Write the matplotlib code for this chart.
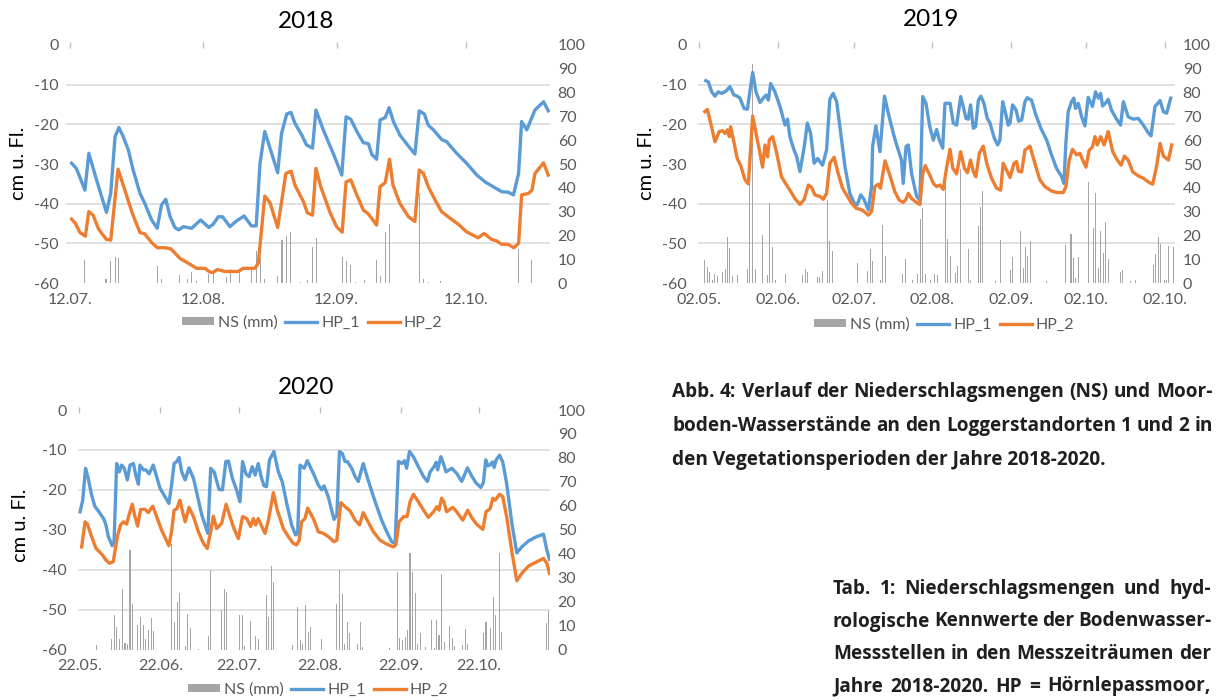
import numpy as np
import matplotlib
matplotlib.use("Agg")
import matplotlib.pyplot as plt
from matplotlib.patches import Patch
from matplotlib.lines import Line2D

# --- 2018 (Tage ab 12.07.) ---
d18_hp1 = [0.4, 1.5, 3.5, 4.4, 6.2, 8.5, 9.5, 10.5, 11.4, 12.4, 13.6, 14.7, 16.3, 17.4, 19.0, 20.3, 21.3,
           22.3, 23.3, 24.4, 25.3, 26.4, 28.3, 30.4, 32.3, 33.3, 34.5, 35.5, 37.2, 38.8, 40.5, 42.2, 43.3,
           44.2, 45.3, 46.9, 48.3, 49.2, 50.4, 51.4, 52.3, 53.9, 55.0, 56.4, 57.2, 58.9, 61.2, 63.2, 64.2,
           65.3, 66.7, 68.2, 69.4, 70.2, 71.3, 72.1, 73.3, 74.2, 75.2, 76.7, 78.7, 80.2, 81.2, 82.4, 83.3,
           84.5, 86.4, 87.6, 89.9, 92.2, 94.6, 96.5, 98.8, 100.4, 101.9, 103.1, 104.3, 105.0, 106.2, 108.1,
           110.1, 111.2]
hp1_18 = [-29.8, -31.1, -36.6, -27.3, -34.0, -42.2, -37.4, -23.1, -20.8, -23.1, -26.5, -31.5, -37.4, -39.9,
          -44.1, -46.2, -40.3, -38.9, -43.3, -46.0, -46.6, -45.8, -46.2, -44.1, -46.0, -45.2, -43.3, -43.3,
          -45.8, -44.3, -43.1, -45.6, -45.6, -29.8, -21.8, -27.3, -32.2, -22.3, -17.4, -17.0, -19.7, -22.7,
          -25.2, -26.0, -16.4, -21.4, -27.3, -32.8, -18.1, -18.7, -21.8, -24.6, -24.9, -27.6, -28.8, -18.9,
          -18.3, -15.8, -19.3, -22.7, -25.5, -27.5, -16.6, -17.4, -20.2, -21.4, -23.8, -24.4, -27.3, -29.8,
          -32.8, -34.5, -36.0, -37.0, -37.1, -37.8, -32.4, -19.3, -21.4, -16.4, -14.3, -16.6]
d18_hp2 = [0.4, 1.3, 2.3, 3.6, 4.4, 5.4, 6.6, 7.4, 8.5, 9.5, 11.2, 12.4, 14.5, 16.3, 17.4, 19.0, 20.3, 22.1,
           23.5, 25.6, 27.5, 29.5, 31.4, 32.6, 33.3, 34.3, 36.0, 39.1, 40.3, 43.0, 43.8, 45.3, 46.5, 48.3,
           50.2, 51.4, 52.3, 54.3, 55.2, 56.4, 57.2, 58.3, 60.5, 62.0, 63.3, 64.2, 65.3, 66.7, 68.2, 69.4,
           71.3, 72.1, 73.3, 74.3, 75.1, 76.7, 78.7, 80.2, 81.2, 82.2, 83.3, 84.9, 86.4, 88.4, 90.3, 92.2,
           94.9, 96.3, 98.0, 99.2, 100.3, 101.9, 103.2, 104.3, 105.0, 106.6, 107.4, 108.1, 110.1, 111.2]
hp2_18 = [-43.9, -45.0, -47.2, -48.2, -42.0, -42.9, -46.2, -47.5, -49.0, -49.2, -31.3, -35.3, -42.4, -47.3,
          -47.6, -49.8, -51.1, -51.1, -51.4, -53.8, -55.0, -56.3, -56.3, -57.3, -57.3, -56.6, -57.1, -57.1,
          -56.3, -56.3, -55.0, -38.1, -39.7, -46.0, -32.4, -31.8, -35.3, -39.5, -42.3, -42.9, -31.1, -35.7,
          -42.3, -45.8, -47.2, -34.5, -34.0, -37.8, -41.6, -42.6, -45.4, -35.7, -34.7, -28.8, -35.3, -39.9,
          -43.3, -44.5, -31.5, -32.4, -35.7, -39.1, -42.0, -43.7, -45.2, -47.1, -48.6, -47.5, -49.0, -49.4,
          -50.2, -50.3, -51.1, -50.0, -37.8, -37.4, -36.6, -32.4, -29.7, -32.8]
d18_ns = [3.5, 8.4, 9.5, 10.5, 11.4, 20.4, 21.4, 25.4, 27.4, 28.3, 29.5, 32.3, 33.4, 36.4, 37.4, 39.4, 42.2,
          43.3, 44.3, 45.3, 48.3, 49.3, 50.4, 51.3, 53.5, 55.3, 56.4, 57.4, 63.3, 64.3, 65.3, 66.3, 68.4,
          71.3, 72.3, 73.3, 74.3, 81.3, 82.3, 83.3, 86.2, 104.2, 107.2]
ns_18 = [9.8, 1.8, 9.4, 10.9, 10.5, 7.0, 1.8, 3.2, 1.8, 4.6, 0.7, 3.8, 4.6, 2.4, 6.0, 5.6, 5.6, 13.3, 10.5,
         1.8, 3.1, 18.2, 19.9, 21.4, 0.3, 1.1, 15.1, 18.9, 10.9, 9.1, 7.4, 0.4, 1.1, 9.8, 2.8, 21.4, 24.9,
         38.0, 1.8, 0.4, 0.7, 14.3, 9.8]

# --- 2019 (Tage ab 02.05.) ---
d19_hp1 = [2.6, 3.6, 4.9, 6.2, 7.5, 8.8, 10.6, 12.1, 13.7, 15.0, 16.1, 17.7, 19.0, 20.0, 21.1, 22.4, 24.0,
           25.3, 26.4, 27.3, 28.2, 29.9, 31.9, 33.9, 34.9, 35.8, 37.2, 38.5, 39.8, 41.5, 42.7, 44.0, 45.4,
           46.8, 48.7, 50.3, 51.6, 52.9, 54.3, 55.9, 57.6, 59.5, 61.3, 62.4, 63.8, 65.1, 66.8, 68.1, 68.5,
           69.8, 71.4, 73.2, 74.7, 76.7, 78.0, 79.9, 80.6, 81.7, 82.6, 83.9, 85.9, 87.2, 88.3, 89.6, 91.1,
           92.5, 93.8, 94.9, 96.2, 97.1, 99.1, 100.4, 101.7, 103.3, 104.3, 105.4, 106.3, 107.2, 108.3, 109.2,
           110.3, 111.3, 112.5, 113.8, 114.9, 116.6, 117.9, 118.8, 119.9, 120.9, 122.1, 122.8, 123.8, 125.2,
           126.2, 127.4, 128.7, 129.6, 131.3, 133.0, 135.0, 137.3, 139.2, 141.2, 143.2, 144.1, 144.9, 145.8,
           147.1, 148.0, 148.7, 149.8, 151.1, 152.4, 153.7, 155.4, 156.6, 157.7, 158.6, 159.4, 161.0, 161.6,
           162.9, 164.7, 166.5, 167.6, 169.5, 171.5, 173.5, 175.5, 177.4, 178.5, 180.1, 182.1, 183.4, 184.7,
           186.3]
hp1_19 = [-9.0, -9.3, -11.8, -12.9, -11.8, -12.2, -11.6, -10.5, -12.6, -12.9, -13.4, -16.0, -16.2, -11.8,
          -6.9, -11.8, -14.5, -13.4, -12.6, -13.9, -9.7, -11.8, -15.5, -20.2, -18.7, -23.1, -26.0, -28.2,
          -31.9, -25.6, -19.7, -22.3, -29.8, -28.6, -30.3, -26.5, -13.7, -12.2, -14.3, -22.3, -30.7, -37.4,
          -39.9, -40.3, -37.8, -38.9, -41.6, -35.7, -25.6, -20.4, -26.9, -12.9, -17.2, -22.3, -25.2, -29.0,
          -34.9, -25.6, -25.2, -32.4, -38.2, -39.1, -13.0, -14.7, -20.6, -24.0, -21.3, -24.0, -26.0, -14.7,
          -14.7, -19.7, -20.2, -13.0, -15.5, -18.5, -18.7, -15.1, -21.0, -20.6, -13.9, -12.9, -14.7, -18.5,
          -19.7, -23.5, -25.2, -24.0, -14.3, -16.8, -20.2, -19.7, -15.1, -16.4, -19.2, -18.9, -14.3, -13.3,
          -13.9, -17.6, -21.0, -24.0, -27.7, -31.1, -33.2, -34.9, -24.4, -16.8, -14.3, -13.4, -16.0, -14.7,
          -18.1, -20.4, -13.2, -15.5, -11.8, -13.4, -12.2, -15.4, -14.3, -13.7, -16.4, -18.5, -20.2, -14.3,
          -18.1, -18.7, -18.5, -20.2, -22.1, -22.9, -15.5, -14.0, -16.8, -17.2, -13.4]
d19_hp2 = [2.2, 3.2, 4.5, 6.2, 7.9, 9.2, 10.2, 11.1, 11.9, 12.4, 13.5, 15.0, 16.3, 18.1, 19.4, 21.1, 22.7,
           24.0, 25.0, 26.0, 27.0, 27.7, 29.0, 30.6, 32.5, 34.5, 35.8, 37.8, 39.8, 41.5, 43.1, 44.4, 45.7,
           47.7, 49.0, 50.3, 51.6, 53.3, 54.9, 56.6, 58.2, 60.2, 62.1, 63.5, 64.8, 66.8, 68.1, 69.4, 70.7,
           71.6, 73.4, 75.3, 77.3, 79.0, 80.6, 81.7, 82.6, 83.9, 85.9, 87.2, 88.3, 89.3, 91.1, 92.5, 93.8,
           95.1, 96.4, 97.8, 99.1, 100.2, 101.7, 103.3, 104.8, 106.0, 107.2, 108.3, 109.3, 110.7, 112.2,
           113.6, 115.5, 117.5, 119.1, 120.1, 121.4, 122.8, 124.4, 125.4, 126.1, 127.4, 128.7, 130.7, 132.6,
           134.6, 136.6, 139.2, 141.2, 143.8, 144.9, 146.2, 147.5, 149.1, 150.4, 151.8, 152.8, 154.1, 155.3,
           156.4, 157.3, 158.6, 160.0, 161.6, 163.4, 165.0, 166.7, 168.0, 169.5, 171.3, 173.5, 175.5, 177.4,
           179.2, 180.8, 182.1, 183.4, 185.4, 186.7]
hp2_19 = [-16.8, -16.2, -19.7, -24.4, -21.8, -21.6, -22.3, -21.4, -23.1, -20.6, -23.9, -28.6, -30.3, -34.0,
          -35.0, -17.9, -23.1, -27.3, -30.8, -25.2, -28.2, -23.9, -23.1, -27.3, -33.2, -35.3, -36.6, -38.7,
          -40.2, -38.9, -35.3, -35.9, -37.8, -38.2, -38.9, -37.4, -29.8, -28.3, -32.4, -36.1, -37.8, -39.9,
          -41.2, -41.4, -41.8, -42.9, -42.0, -35.7, -35.1, -36.1, -29.2, -32.8, -37.0, -39.1, -39.7, -38.9,
          -37.4, -38.7, -39.7, -40.2, -32.4, -30.4, -32.8, -34.9, -35.7, -35.3, -36.4, -30.7, -26.3, -31.1,
          -32.5, -26.9, -31.1, -32.2, -29.0, -31.9, -33.2, -27.3, -25.5, -29.8, -33.6, -36.1, -36.6, -29.8,
          -31.5, -33.4, -29.8, -29.4, -31.8, -32.0, -26.5, -25.5, -29.8, -34.0, -35.7, -36.8, -37.2, -37.2,
          -35.7, -29.0, -26.3, -27.7, -27.3, -29.4, -30.8, -26.5, -25.8, -23.1, -25.2, -23.1, -25.2, -21.8,
          -26.9, -28.8, -30.3, -28.0, -29.0, -32.0, -33.0, -33.6, -34.5, -35.1, -30.3, -24.8, -28.0, -29.0,
          -25.2]
d19_ns = [2.1, 3.2, 4.2, 5.1, 6.2, 7.1, 9.1, 10.2, 11.1, 12.1, 13.2, 15.0, 19.0, 20.0, 21.1, 22.2, 25.0,
          26.9, 27.9, 28.9, 30.2, 33.9, 40.8, 41.8, 42.7, 46.8, 47.7, 48.6, 50.7, 51.6, 52.7, 62.4, 66.5,
          67.6, 68.5, 71.7, 72.4, 73.5, 80.2, 81.4, 84.2, 86.3, 87.3, 88.3, 89.3, 91.4, 93.1, 94.1, 97.3,
          98.0, 99.3, 101.2, 102.0, 103.4, 106.3, 107.1, 110.3, 111.2, 112.0, 117.1, 119.1, 123.1, 123.9,
          127.0, 128.0, 129.0, 129.7, 130.9, 137.3, 144.8, 146.9, 147.8, 148.8, 149.8, 153.7, 155.7, 156.6,
          157.7, 158.6, 159.6, 160.7, 161.6, 166.5, 167.3, 170.6, 172.4, 179.4, 180.4, 181.4, 182.3, 184.0,
          184.7, 185.6, 187.3]
ns_19 = [9.5, 6.6, 4.6, 1.1, 3.8, 2.8, 4.6, 6.0, 19.2, 14.7, 2.8, 3.2, 6.0, 44.0, 92.0, 5.9, 20.3, 3.5,
         33.6, 15.0, 1.4, 3.8, 3.5, 5.9, 4.6, 2.5, 2.5, 5.2, 35.0, 17.5, 13.3, 8.4, 4.9, 14.3, 9.4, 1.4, 24.5,
         11.5, 3.9, 10.2, 1.4, 3.8, 27.0, 31.5, 3.9, 1.4, 3.9, 3.5, 46.0, 18.5, 11.2, 4.2, 7.0, 48.0, 14.3,
         1.4, 24.0, 32.0, 38.7, 0.7, 17.9, 5.6, 10.9, 21.7, 6.3, 15.1, 11.2, 17.8, 0.7, 16.1, 20.7, 10.5,
         2.1, 10.9, 42.4, 23.1, 38.0, 6.3, 22.0, 12.6, 25.6, 10.1, 4.5, 5.6, 0.7, 1.4, 7.4, 12.2, 19.3, 16.5,
         1.4, 1.4, 15.7, 15.1]

# --- 2020 (Tage ab 22.05.) ---
d20_hp1 = [0.3, 1.3, 2.4, 3.4, 4.7, 6.0, 7.3, 9.3, 10.2, 11.1, 12.6, 13.3, 14.3, 15.3, 16.2, 17.2, 18.4,
           19.4, 20.7, 21.6, 22.6, 23.2, 24.5, 25.5, 26.7, 28.3, 29.6, 30.9, 32.8, 34.3, 35.4, 36.3, 37.3,
           38.2, 39.2, 40.5, 42.0, 43.7, 45.6, 46.9, 49.2, 50.3, 51.6, 53.5, 54.8, 56.1, 57.1, 58.6, 60.2,
           61.5, 62.5, 63.8, 65.0, 66.2, 67.3, 68.5, 69.6, 70.7, 71.7, 72.8, 74.5, 76.2, 77.7, 79.4, 81.3,
           82.8, 83.6, 84.5, 86.1, 87.3, 89.9, 91.5, 92.8, 93.7, 95.3, 96.6, 97.5, 98.6, 99.6, 100.7, 101.7,
           102.6, 104.3, 105.6, 106.8, 108.7, 110.0, 112.0, 113.9, 115.8, 117.7, 119.6, 120.9, 122.2, 123.5,
           124.5, 125.3, 126.4, 127.9, 129.8, 131.8, 133.3, 134.3, 135.8, 136.6, 137.2, 138.4, 139.4, 140.4,
           142.6, 144.5, 146.4, 148.6, 150.2, 151.8, 153.7, 154.7, 155.6, 156.4, 157.2, 158.2, 158.8, 159.6,
           160.9, 162.1, 163.6, 165.6, 167.5, 169.4, 172.0, 174.5, 177.7, 179.0, 180.0]
hp1_20 = [-25.5, -22.6, -14.6, -17.1, -21.3, -24.2, -25.3, -27.2, -28.8, -31.7, -34.0, -33.0, -13.4, -15.5,
          -13.8, -14.6, -17.5, -13.8, -13.4, -16.3, -18.6, -13.8, -15.0, -15.0, -16.0, -13.8, -16.7, -19.6,
          -21.7, -23.4, -18.4, -13.4, -12.9, -11.9, -15.5, -17.5, -14.5, -17.1, -22.6, -26.3, -30.9, -14.6,
          -15.5, -19.9, -20.0, -12.9, -12.8, -17.1, -20.0, -23.0, -12.9, -16.0, -16.7, -14.2, -16.3, -13.4,
          -16.7, -19.0, -19.2, -12.5, -10.4, -15.5, -18.0, -23.4, -28.8, -31.3, -30.9, -13.8, -14.6, -12.7,
          -16.3, -18.8, -20.0, -19.0, -21.7, -25.1, -27.4, -26.3, -10.4, -10.9, -12.9, -12.9, -14.6, -16.7,
          -17.9, -13.4, -16.3, -20.5, -24.2, -27.7, -30.5, -33.0, -33.4, -12.9, -13.4, -12.7, -14.6, -10.4,
          -11.7, -14.2, -16.7, -17.9, -15.5, -14.2, -13.1, -15.0, -11.7, -13.4, -15.5, -14.6, -15.9, -17.9,
          -14.5, -16.5, -18.2, -19.4, -18.2, -12.5, -14.0, -13.8, -13.0, -14.4, -12.5, -11.3, -13.0, -18.4,
          -28.4, -35.8, -34.3, -32.8, -31.9, -31.1, -35.1, -37.4]
d20_hp2 = [0.9, 2.2, 3.1, 4.7, 6.4, 8.6, 10.2, 11.5, 13.0, 14.6, 15.8, 16.9, 18.1, 19.2, 20.3, 21.3, 22.3,
           23.5, 25.2, 26.4, 28.1, 29.6, 31.5, 34.3, 35.4, 36.3, 37.3, 38.5, 39.4, 40.5, 42.0, 43.7, 45.6,
           47.5, 49.0, 50.3, 51.3, 52.6, 54.5, 56.2, 57.7, 59.2, 60.9, 62.5, 64.1, 65.6, 66.6, 67.5, 68.5,
           69.8, 71.1, 72.4, 74.3, 75.8, 78.1, 80.0, 81.9, 83.2, 84.2, 85.1, 86.4, 87.4, 89.6, 91.5, 93.4,
           95.3, 97.5, 98.6, 100.1, 101.7, 103.7, 105.6, 107.3, 108.7, 110.3, 112.6, 115.1, 117.7, 120.2,
           121.2, 122.4, 124.2, 125.5, 126.6, 127.9, 129.8, 131.8, 133.6, 135.6, 136.9, 137.7, 138.7, 139.6,
           140.6, 143.0, 144.5, 146.8, 148.7, 150.2, 152.2, 154.5, 155.7, 157.3, 158.3, 159.2, 160.9, 162.1,
           163.6, 165.6, 167.5, 169.4, 172.0, 175.2, 177.7, 179.0, 180.0]
hp2_20 = [-34.3, -28.0, -28.6, -31.7, -34.7, -36.1, -37.6, -38.4, -38.0, -31.6, -28.8, -28.0, -28.6, -25.9,
          -23.6, -26.7, -29.1, -24.9, -24.9, -25.7, -24.1, -26.7, -30.1, -34.0, -30.1, -25.1, -24.8, -22.6,
          -25.1, -28.0, -24.4, -26.7, -30.5, -33.4, -34.7, -30.5, -26.6, -29.7, -28.4, -23.6, -26.7, -29.7,
          -32.2, -26.7, -27.2, -29.2, -27.2, -28.8, -27.2, -29.1, -30.9, -27.6, -20.7, -25.1, -29.7, -31.7,
          -33.4, -33.8, -32.6, -28.0, -27.2, -24.6, -27.2, -30.5, -30.9, -31.7, -33.0, -32.6, -23.2, -24.2,
          -25.3, -27.6, -28.8, -25.7, -27.7, -30.5, -32.6, -33.6, -34.3, -33.8, -28.0, -26.7, -26.7, -23.0,
          -21.1, -23.0, -25.1, -26.9, -25.5, -24.2, -25.1, -22.1, -23.0, -25.5, -24.4, -25.5, -27.6, -25.1,
          -26.9, -28.7, -29.9, -25.5, -24.7, -22.1, -22.6, -21.1, -21.7, -26.7, -35.5, -42.8, -40.9, -39.1,
          -38.0, -37.2, -38.4, -40.9]
d20_ns = [6.4, 12.4, 13.4, 14.3, 15.3, 16.5, 17.5, 18.4, 19.4, 20.3, 22.3, 23.4, 24.5, 25.5, 26.4, 27.5,
          28.3, 35.4, 36.4, 37.5, 38.5, 40.5, 41.5, 42.5, 45.6, 49.4, 50.4, 54.5, 55.5, 56.4, 61.5, 62.5,
          63.4, 65.5, 67.5, 68.5, 71.5, 72.6, 73.5, 74.5, 81.5, 83.6, 84.5, 85.5, 86.7, 87.7, 88.6, 92.8,
          98.6, 99.6, 100.7, 101.6, 102.6, 103.6, 106.6, 107.6, 108.5, 118.8, 121.8, 122.6, 123.7, 124.8,
          125.8, 126.6, 127.5, 128.7, 129.4, 130.5, 132.4, 134.8, 135.8, 136.9, 137.7, 138.7, 139.7, 141.7,
          142.7, 143.6, 146.8, 147.7, 148.6, 154.7, 155.7, 157.6, 158.5, 159.5, 160.7, 161.6, 179.0, 179.7]
ns_20 = [1.8, 4.2, 14.6, 9.5, 4.2, 25.2, 2.8, 2.2, 41.5, 18.9, 10.2, 13.6, 10.2, 4.2, 8.1, 13.0, 7.8, 44.0,
         11.6, 19.9, 23.7, 1.4, 15.0, 9.1, 0.4, 5.6, 33.1, 16.4, 25.2, 24.1, 14.6, 14.6, 1.4, 12.0, 5.6, 4.2,
         22.7, 13.4, 34.8, 28.0, 1.8, 17.8, 3.9, 2.5, 18.5, 7.1, 9.2, 4.2, 19.2, 33.1, 23.1, 2.5, 11.6, 6.7,
         2.5, 11.3, 1.1, 0.7, 32.5, 4.6, 3.9, 5.3, 8.1, 40.4, 32.5, 23.7, 2.5, 6.7, 1.1, 12.5, 0.8, 12.5, 6.0,
         31.5, 3.2, 9.7, 5.0, 1.4, 1.8, 8.4, 2.2, 6.7, 11.6, 8.8, 22.0, 14.3, 40.4, 7.4, 10.9, 16.2]

ticks18 = [0, 31, 62, 92]
labels18 = ["12.07.", "12.08.", "12.09.", "12.10."]
ticks19 = [0, 31, 61, 92, 123, 153, 184]
labels19 = ["02.05.", "02.06.", "02.07.", "02.08.", "02.09.", "02.10.", "02.10."]
ticks20 = [0, 31, 61, 92, 123, 153]
labels20 = ["22.05.", "22.06.", "22.07.", "22.08.", "22.09.", "22.10."]

BLUE = "#5b9bd5"
ORANGE = "#ed7d31"
GRAY = "#a5a5a5"
GRID = "#d9d9d9"
LBL = "#595959"
W, H = 1218, 700

plt.rcParams["font.family"] = ["Lato", "DejaVu Sans"]
plt.rcParams["axes.unicode_minus"] = False
fig = plt.figure(figsize=(W / 100, H / 100), dpi=100)


def px(x, y):
    return x / W, 1 - y / H


def panel(left, right, top, bottom, xlim, dns, ns, d1, v1, d2, v2, ticks, labels, barw, lpad):
    ax = fig.add_axes([left / W, 1 - bottom / H, (right - left) / W, (bottom - top) / H])
    ax2 = ax.twinx()
    ax.set_zorder(ax2.get_zorder() + 1)
    ax.patch.set_visible(False)
    ax2.bar(dns, ns, width=barw, color=GRAY, linewidth=0, zorder=2)
    ax.plot(d1, v1, color=BLUE, lw=2.4, solid_joinstyle="round")
    ax.plot(d2, v2, color=ORANGE, lw=2.4, solid_joinstyle="round")
    ax.set_ylim(-60, 0)
    ax.set_yticks(range(-60, 1, 10))
    ax2.set_ylim(0, 100)
    ax2.set_yticks(range(0, 101, 10))
    ax2.set_yticks(np.linspace(0, 100, 7), minor=True)
    ax2.grid(axis="y", which="minor", color=GRID, lw=1.1, zorder=0)
    ax2.set_axisbelow(True)
    for a in (ax, ax2):
        for s in a.spines.values():
            s.set_visible(False)
    ax.set_xlim(xlim)
    ax.set_xticks(ticks, labels)
    ax.tick_params(axis="x", bottom=False, top=True, labelbottom=True, labeltop=False,
                   direction="inout", length=5, width=1, color="#bfbfbf",
                   labelcolor=LBL, labelsize=11.5, pad=4.5)
    ax.tick_params(axis="y", length=0, labelcolor=LBL, labelsize=11.5, pad=lpad)
    ax2.tick_params(axis="y", which="both", length=0, labelcolor=LBL, labelsize=11.5, pad=5.5)
    return ax


panel(66, 550, 45, 283, (-0.9, 111.6), d18_ns, ns_18, d18_hp1, hp1_18, d18_hp2, hp2_18,
      ticks18, labels18, 0.25, 5)
panel(698, 1175, 45, 283, (-0.5, 188.0), d19_ns, ns_19, d19_hp1, hp1_19, d19_hp2, hp2_19,
      ticks19, labels19, 0.4, 8)
panel(78, 550, 410, 649.5, (-0.5, 180.2), d20_ns, ns_20, d20_hp1, hp1_20, d20_hp2, hp2_20,
      ticks20, labels20, 0.4, 8)

# Titel, Achsenbeschriftung, Legenden
for title, (tx, ty) in [("2018", (306, 22)), ("2019", (931, 20)), ("2020", (306, 387))]:
    fig.text(*px(tx, ty), title, ha="center", va="center", fontsize=17.5, color="black")
for (lx, ly) in [(18, 163), (646, 163), (21, 525)]:
    fig.text(*px(lx, ly), "cm u. Fl.", rotation=90, ha="center", va="center", fontsize=14.5)

handles = [Patch(facecolor=GRAY, edgecolor="none"),
           Line2D([], [], color=BLUE, lw=2.4),
           Line2D([], [], color=ORANGE, lw=2.4)]
for (cx, cy) in [(312, 323), (944, 325), (318, 690)]:
    fig.legend(handles, ["NS (mm)", "HP_1", "HP_2"], loc="center", bbox_to_anchor=px(cx, cy),
               ncol=3, frameon=False, fontsize=11.5, handlelength=2.0, handleheight=0.4,
               handletextpad=0.25, columnspacing=0.5, labelcolor=LBL, borderpad=0)

# Bildunterschriften (Blocksatz)
renderer = fig.canvas.get_renderer()
cap_font = dict(family=["Open Sans", "DejaVu Sans"], weight="bold", color="#1f1f1f")
probe = fig.text(0, 0, "den Vegetationsperioden der Jahre 2018-2020.", fontsize=10, **cap_font)
cap_fs = 10 * 433 / probe.get_window_extent(renderer).width
probe.remove()


def caption_line(text, x0, x1, y, justify=True):
    if not justify:
        fig.text(*px(x0, y), text, fontsize=cap_fs, va="baseline", ha="left", **cap_font)
        return
    words = text.split(" ")
    items = [fig.text(0, 0, w, fontsize=cap_fs, va="baseline", ha="left", **cap_font) for w in words]
    widths = [t.get_window_extent(renderer).width for t in items]
    gap = (x1 - x0 - sum(widths)) / (len(words) - 1)
    x = x0
    for t, w in zip(items, widths):
        t.set_position(px(x, y))
        x += w + gap


cap1 = ["Abb. 4: Verlauf der Niederschlagsmengen (NS) und Moor-",
        "boden-Wasserstände an den Loggerstandorten 1 und 2 in",
        "den Vegetationsperioden der Jahre 2018-2020."]
for i, line in enumerate(cap1):
    caption_line(line, 672, 1213, 397 + 34 * i, justify=i < 2)

cap2 = ["Tab. 1: Niederschlagsmengen und hyd-",
        "rologische Kennwerte der Bodenwasser-",
        "Messstellen in den Messzeiträumen der",
        "Jahre 2018-2020. HP = Hörnlepassmoor,"]
for i, line in enumerate(cap2):
    caption_line(line, 833, 1211, 594 + 32.5 * i)

fig.savefig("out.png", dpi=100)
